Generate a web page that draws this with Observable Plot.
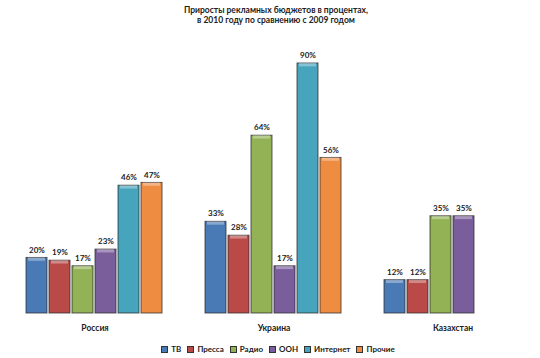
<!DOCTYPE html>
<html>
<head>
<meta charset="utf-8">
<script src="https://cdn.jsdelivr.net/npm/d3@7"></script>
<script src="https://cdn.jsdelivr.net/npm/@observablehq/plot@0.6"></script>
<style>
  body { margin: 0; width: 540px; height: 358px; background: #fff; font-family: Lato, "Open Sans", sans-serif; overflow: hidden; }
  #title { height: 30px; box-sizing: border-box; padding-top: 5px; padding-left: 12px; text-align: center; font-weight: bold; font-size: 8.5px; line-height: 10px; color: #222; }
  #legend { display: flex; justify-content: center; align-items: center; padding-left: 16px; height: 16px; font-size: 8px; font-weight: bold; color: #222; }
  #legend .item { display: flex; align-items: center; margin: 0 3px; }
  #legend .sw { width: 5px; height: 5px; border: 1px solid #333; margin-right: 3px; }
</style>
</head>
<body>
<div id="title">Приросты рекламных бюджетов в процентах,<br>в 2010 году по сравнению с 2009 годом</div>
<div id="chart"></div>
<div id="legend"></div>
<script>
const countries = ["Россия", "Украина", "Казахстан"];
const media = ["ТВ", "Пресса", "Радио", "ООН", "Интернет", "Прочие"];
const russia = [20, 19, 17, 23, 46, 47];
const ukraine = [33, 28, 64, 17, 90, 56];
const kazakhstan = [12, 12, 35, 35, null, null];
const colors = ["#4a7ab5", "#b94a47", "#93b255", "#7a5e9c", "#46a4bd", "#ee8c42"];

const series = [russia, ukraine, kazakhstan];
const data = [];
countries.forEach((c, i) => media.forEach((m, j) => {
  if (series[i][j] != null) data.push({country: c, media: m, value: series[i][j]});
}));

const chart = Plot.plot({
  width: 540,
  height: 311,
  marginTop: 33,
  marginBottom: 28,
  marginLeft: 0,
  marginRight: 0,
  style: {fontFamily: "Lato, 'Open Sans', sans-serif", background: "transparent"},
  fx: {domain: countries, paddingInner: 0.211, paddingOuter: 0.1056, align: 0.6, label: null, axis: null},
  x: {domain: media, paddingInner: 0.07, paddingOuter: 0, axis: null},
  y: {domain: [0, 90], axis: null},
  color: {domain: media, range: colors},
  marks: [
    Plot.barY(data, {fx: "country", x: "media", y: "value", fill: "media", stroke: "#2a2a2a", strokeOpacity: 0.75, strokeWidth: 1}),
    Plot.barY(data, {fx: "country", x: "media", y1: d => d.value, y2: d => d.value - 1.2, fill: "white", fillOpacity: 0.35, insetLeft: 2, insetRight: 2}),
    Plot.text(data, {fx: "country", x: "media", y: "value", text: d => d.value + "%", dy: -8, fontWeight: "bold", fontSize: 8, fill: "#222"}),
    Plot.axisFx({anchor: "bottom", tickSize: 0, tickPadding: 11, fontWeight: "bold", fontSize: 8.5, label: null, fill: "#222"})
  ]
});
document.getElementById("chart").appendChild(chart);

const legend = document.getElementById("legend");
media.forEach((m, i) => {
  const item = document.createElement("div");
  item.className = "item";
  const sw = document.createElement("span");
  sw.className = "sw";
  sw.style.background = colors[i];
  item.appendChild(sw);
  item.appendChild(document.createTextNode(m));
  legend.appendChild(item);
});
</script>
</body>
</html>
